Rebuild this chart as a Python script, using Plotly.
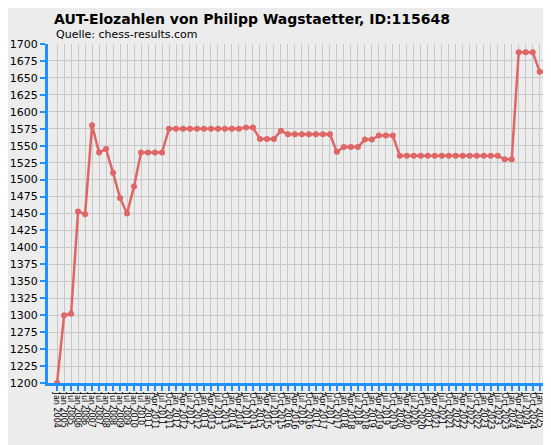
import plotly.graph_objects as go

# Elo values per rating list
elo = [1200, 1300, 1302, 1453, 1449, 1580, 1540, 1545, 1510, 1473, 1450, 1490,
       1540, 1540, 1540, 1540,
       1575, 1575, 1575, 1575, 1575, 1575, 1575, 1575, 1575, 1575, 1575,
       1577, 1577,
       1560, 1560, 1560, 1572,
       1567, 1567, 1567, 1567, 1567, 1567, 1567,
       1541, 1548, 1548, 1548, 1559, 1559, 1565, 1565, 1565,
       1535, 1535, 1535, 1535, 1535, 1535, 1535, 1535, 1535, 1535, 1535, 1535, 1535, 1535, 1535,
       1530, 1530, 1688, 1688, 1688, 1659, 1659]

early_labels = ["Jan 2004", "Jan 2005", "Jul 2005", "Jan 2006", "Jul 2006", "Jan 2007",
                "Jul 2007", "Jan 2008", "Jul 2008", "Jan 2009", "Jul 2009", "Jan 2010",
                "Jul 2010"]
months = ["Jan", "Apr", "Jul", "Oct"]
quarter_labels = [f"{months[q % 4]} {2011 + q // 4}" for q in range(len(elo) - len(early_labels))]
labels = early_labels + quarter_labels

x = list(range(len(elo)))

fig = go.Figure(go.Scatter(
    x=x, y=elo, mode="lines+markers",
    line=dict(color="#e06666", width=2.5),
    marker=dict(color="#e06666", size=6),
))

fig.update_layout(
    width=551, height=445,
    margin=dict(l=40, r=6, t=36, b=70, autoexpand=False),
    paper_bgcolor="#ececec", plot_bgcolor="#ececec",
    font=dict(family="DejaVu Sans", size=11, color="black"),
    showlegend=False,
    title=dict(text="<b>AUT-Elozahlen von Philipp Wagstaetter, ID:115648</b>",
               xref="container", yref="container",
               x=46 / 551, xanchor="left", y=1 - 11 / 445, yanchor="middle",
               font=dict(size=14)),
    annotations=[dict(text="Quelle: chess-results.com", xref="paper", yref="paper",
                      x=0.012, y=1 + 9 / 339, xanchor="left", yanchor="middle",
                      showarrow=False, font=dict(size=11))],
)
fig.update_xaxes(
    tickmode="array", tickvals=x, ticktext=labels, tickangle=90,
    tickfont=dict(size=8), range=[-1.3, 70.9], automargin=False,
    showgrid=True, gridcolor="#c8c8c8", zeroline=False,
    showline=True, linecolor="#1e90ff", linewidth=3,
    ticks="outside", tickcolor="#1e90ff", ticklen=5, tickwidth=2,
)
fig.update_yaxes(
    range=[1200, 1700], dtick=25, tickfont=dict(size=11), automargin=False,
    showgrid=True, gridcolor="#c8c8c8", zeroline=False,
    showline=True, linecolor="#1e90ff", linewidth=3,
    ticks="outside", tickcolor="#1e90ff", ticklen=5, tickwidth=2,
)

fig.write_html("out.html")
